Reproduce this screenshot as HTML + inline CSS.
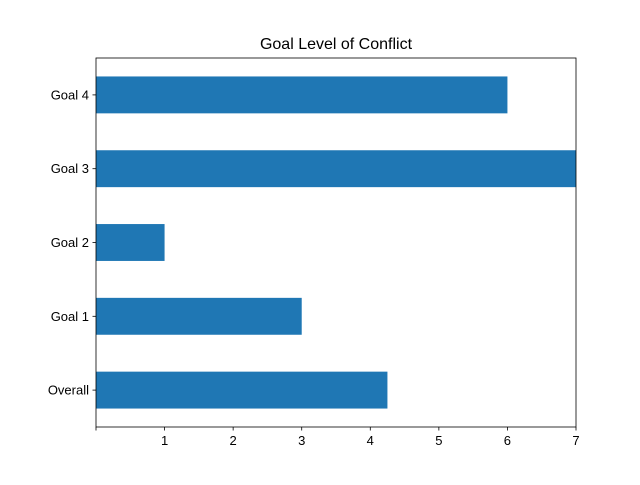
<!DOCTYPE html>
<html><head><meta charset="utf-8"><style>
body{margin:0;background:#fff;}
svg text{font-family:"Liberation Sans","DejaVu Sans",sans-serif;}
</style></head><body>
<svg id="chart" width="640" height="480" xmlns="http://www.w3.org/2000/svg">
<rect width="640" height="480" fill="#fff"/>
<text x="336" y="49" font-size="16" text-anchor="middle">Goal Level of Conflict</text>
<g id="bars"></g>
<g id="axes"></g>
</svg>
<script>
const categories = ["Overall","Goal 1","Goal 2","Goal 3","Goal 4"];
const values = [4.25,3,1,7,6];
const xTicks = [0,1,2,3,4,5,6,7];
const xTickLabels = ["","1","2","3","4","5","6","7"];
const L=96,R=576,T=58,B=427,xmin=0,xmax=7;
const ns="http://www.w3.org/2000/svg";
const xs=v=>L+(v-xmin)/(xmax-xmin)*(R-L);
const ys=i=>B-(i+0.5)/categories.length*(B-T);
const bandH=(B-T)/categories.length*0.5;
function mk(t,a,p){const e=document.createElementNS(ns,t);for(const k in a)e.setAttribute(k,a[k]);p.appendChild(e);return e;}
const bars=document.getElementById('bars'),axes=document.getElementById('axes');
categories.forEach((c,i)=>{
  const r=mk('rect',{x:xs(0),y:ys(i)-bandH/2,width:xs(values[i])-xs(0),height:bandH,fill:'#1f77b4'},bars);
  
  
  mk('line',{x1:L-3.5,x2:L,y1:ys(i),y2:ys(i),stroke:'#000','stroke-width':0.8},axes);
  const t=mk('text',{x:L-7,y:ys(i)+4.5,'font-size':13,'text-anchor':'end'},axes);
  t.textContent=c;
  
  
});
xTicks.forEach((v,i)=>{
  mk('line',{x1:xs(v),x2:xs(v),y1:B,y2:B+3.5,stroke:'#000','stroke-width':0.8},axes);
  const t=mk('text',{x:xs(v),y:B+18,'font-size':13,'text-anchor':'middle'},axes);
  t.textContent=xTickLabels[i];
  
  
});
const f=mk('rect',{x:L,y:T,width:R-L,height:B-T,fill:'none',stroke:'#000','stroke-width':0.8},axes);


</script>
</body></html>
